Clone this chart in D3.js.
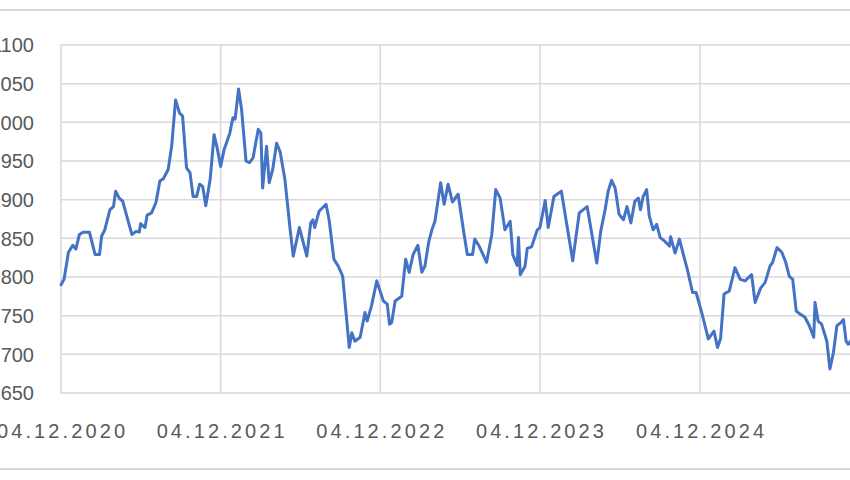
<!DOCTYPE html>
<html>
<head>
<meta charset="utf-8">
<script src="https://cdn.jsdelivr.net/npm/d3@7"></script>
<style>
  html, body { margin: 0; padding: 0; background: #ffffff; }
  svg { display: block; }
  text { font-family: "Liberation Sans", Arial, sans-serif; fill: #595959; }
</style>
</head>
<body>
<svg id="chart" width="850" height="480"></svg>
<script>
const dates = [
"2020-12-04","2020-12-11","2020-12-21","2020-12-31","2021-01-07","2021-01-15","2021-01-24","2021-02-07","2021-02-20","2021-03-02",
"2021-03-07","2021-03-14","2021-03-26","2021-04-03","2021-04-08","2021-04-16","2021-04-24","2021-05-15","2021-05-25","2021-06-01",
"2021-06-04","2021-06-14","2021-06-19","2021-06-29","2021-07-09","2021-07-18","2021-07-26","2021-08-06","2021-08-14","2021-08-23",
"2021-09-01","2021-09-08","2021-09-17","2021-09-25","2021-10-02","2021-10-10","2021-10-17","2021-10-24","2021-10-31","2021-11-10",
"2021-11-19","2021-11-26","2021-12-04","2021-12-12","2021-12-25","2022-01-01","2022-01-06","2022-01-14","2022-01-21","2022-01-31",
"2022-02-08","2022-02-16","2022-02-28","2022-03-06","2022-03-10","2022-03-19","2022-03-25","2022-04-02","2022-04-11","2022-04-19",
"2022-04-30","2022-05-12","2022-05-19","2022-06-02","2022-06-19","2022-06-28","2022-07-03","2022-07-07","2022-07-17","2022-08-02",
"2022-08-09","2022-08-20","2022-08-30","2022-09-09","2022-09-24","2022-09-30","2022-10-07","2022-10-19","2022-10-30","2022-11-04",
"2022-11-14","2022-11-26","2022-12-11","2022-12-20","2022-12-25","2022-12-30","2023-01-07","2023-01-22","2023-01-31","2023-02-08",
"2023-02-17","2023-02-28","2023-03-09","2023-03-16","2023-03-25","2023-04-01","2023-04-08","2023-04-21","2023-04-29","2023-05-08",
"2023-05-18","2023-05-31","2023-06-12","2023-06-21","2023-07-03","2023-07-08","2023-07-18","2023-08-04","2023-08-16","2023-08-25",
"2023-09-04","2023-09-15","2023-09-27","2023-10-03","2023-10-13","2023-10-16","2023-10-20","2023-10-31","2023-11-05","2023-11-15",
"2023-11-28","2023-12-04","2023-12-16","2023-12-23","2024-01-05","2024-01-22","2024-02-17","2024-03-03","2024-03-21","2024-04-12",
"2024-04-21","2024-05-01","2024-05-08","2024-05-16","2024-05-24","2024-06-02","2024-06-12","2024-06-20","2024-06-29","2024-07-08",
"2024-07-16","2024-07-21","2024-07-27","2024-08-04","2024-08-10","2024-08-19","2024-08-27","2024-09-04","2024-09-15","2024-09-25",
"2024-09-28","2024-10-08","2024-10-18","2024-10-27","2024-11-05","2024-11-17","2024-11-25","2024-12-08","2024-12-23","2025-01-05",
"2025-01-13","2025-01-20","2025-01-28","2025-02-09","2025-02-22","2025-03-06","2025-03-17","2025-04-01","2025-04-09","2025-04-22",
"2025-05-02","2025-05-13","2025-05-19","2025-05-29","2025-06-09","2025-06-18","2025-06-26","2025-07-04","2025-07-12","2025-07-21",
"2025-08-01","2025-08-11","2025-08-21","2025-08-24","2025-08-31","2025-09-08","2025-09-20","2025-09-27","2025-10-05","2025-10-13",
"2025-10-22","2025-10-28","2025-11-03","2025-11-08","2025-11-17"
];

const values = [
790,797,832,841,836,855,858,858,829,829,
853,861,887,891,911,902,898,855,859,858,
869,864,880,883,896,924,927,939,969,1029,
1012,1008,941,935,904,904,920,917,892,926,
984,967,943,965,986,1006,1004,1043,1016,950,
948,954,991,986,915,969,922,939,973,962,
926,861,827,864,827,870,874,864,885,894,
874,823,814,801,709,728,717,722,754,743,
763,795,769,765,739,741,769,775,823,806,
829,841,806,814,846,861,872,922,894,920,
897,907,861,829,829,849,840,819,855,913,
902,861,872,829,815,851,803,814,837,839,
861,864,899,864,904,911,821,883,891,818,
859,887,911,925,915,881,874,891,870,898,
902,887,904,913,879,861,868,851,846,840,
852,831,849,829,810,780,780,754,720,730,
709,720,778,782,812,797,795,803,767,786,
793,814,819,838,832,819,801,797,756,752,
748,737,722,767,743,739,717,681,702,737,
741,745,717,713,720
];

const xTickDates = ["2020-12-04","2021-12-04","2022-12-04","2023-12-04","2024-12-04"];
const xTickLabels = ["04.12.2020","04.12.2021","04.12.2022","04.12.2023","04.12.2024"];
const yTicks = [650,700,750,800,850,900,950,1000,1050,1100];
const yTickLabels = ["650","700","750","800","850","900","950","1000","1050","1100"];

const parse = d3.utcParse("%Y-%m-%d");
const data = dates.map((d, i) => ({ date: parse(d), value: values[i] }));

const svg = d3.select("#chart");
const W = 850, H = 480;
const plotLeft = 61, plotTop = 45, plotBottom = 393;

const x = d3.scaleUtc()
  .domain([parse(xTickDates[0]), parse(xTickDates[xTickDates.length - 1])])
  .range([plotLeft, 700]);
const y = d3.scaleLinear().domain([650, 1100]).range([plotBottom, plotTop]);

// chart area border lines (top & bottom visible)
svg.append("line").attr("x1", 0).attr("x2", W).attr("y1", 10).attr("y2", 10)
  .attr("stroke", "#d9d9d9").attr("stroke-width", 2);
svg.append("line").attr("x1", 0).attr("x2", W).attr("y1", 469).attr("y2", 469)
  .attr("stroke", "#d9d9d9").attr("stroke-width", 2);

// horizontal gridlines
svg.append("g").selectAll("line").data(yTicks).join("line")
  .attr("x1", plotLeft).attr("x2", W)
  .attr("y1", d => y(d)).attr("y2", d => y(d))
  .attr("stroke", "#d9d9d9").attr("stroke-width", 1.5);

// vertical gridlines
svg.append("g").selectAll("line").data(xTickDates).join("line")
  .attr("x1", d => x(parse(d))).attr("x2", d => x(parse(d)))
  .attr("y1", plotTop).attr("y2", plotBottom)
  .attr("stroke", "#d9d9d9").attr("stroke-width", 1.5);

// y labels
svg.append("g").selectAll("text").data(yTicks).join("text")
  .attr("x", 34).attr("y", d => y(d)).attr("dy", "0.36em")
  .attr("text-anchor", "end").attr("font-size", 20)
  .text((d, i) => yTickLabels[i]);

// x labels
svg.append("g").selectAll("text").data(xTickDates).join("text")
  .attr("x", d => x(parse(d))).attr("y", 438)
  .attr("text-anchor", "middle").attr("font-size", 20)
  .attr("textLength", 128).attr("lengthAdjust", "spacing")
  .text((d, i) => xTickLabels[i]);

// line
const line = d3.line().x(d => x(d.date)).y(d => y(d.value));
svg.append("path").datum(data)
  .attr("d", line)
  .attr("fill", "none")
  .attr("stroke", "#4472C4")
  .attr("stroke-width", 3)
  .attr("stroke-linejoin", "round")
  .attr("stroke-linecap", "round");
</script>
</body>
</html>
